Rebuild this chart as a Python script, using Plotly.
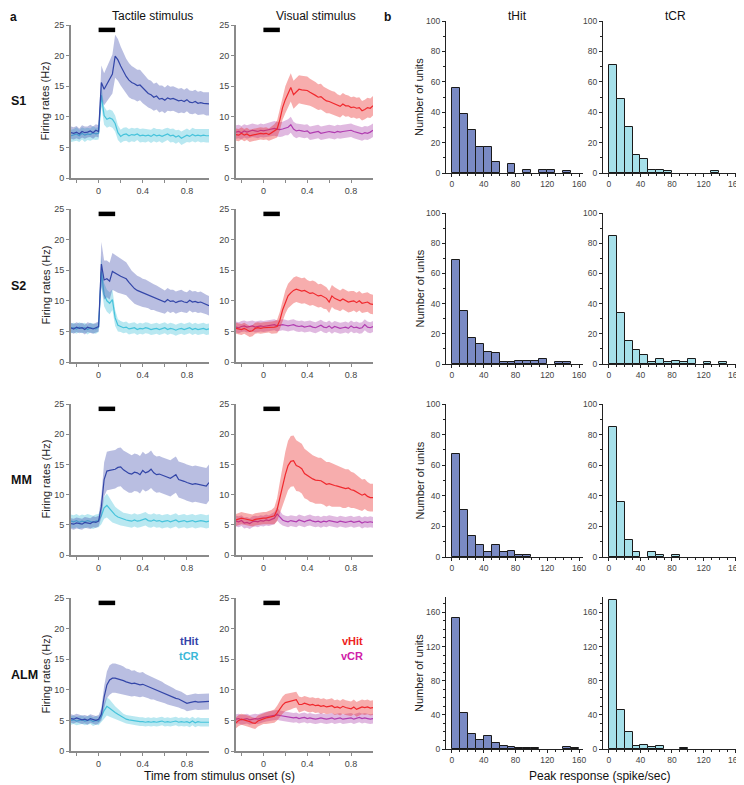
import plotly.graph_objects as go
from plotly.subplots import make_subplots

# the page adds an 8 px body margin, so the figure is drawn 8 px smaller
# and every pixel position below is given in window coordinates
W, H = 744, 785
OFF = 8
FIG_W, FIG_H = W - OFF, H - OFF
FONT = "Liberation Sans, Arial, sans-serif"

# time axis of the PSTHs (s)
T = [-0.25, -0.225, -0.2, -0.175, -0.15, -0.125, -0.1, -0.075, -0.05, -0.025, 0.0,
     0.025, 0.05, 0.075, 0.1, 0.125, 0.15, 0.175, 0.2, 0.225, 0.25,
     0.275, 0.3, 0.325, 0.35, 0.375, 0.4, 0.425, 0.45, 0.475, 0.5,
     0.525, 0.55, 0.575, 0.6, 0.625, 0.65, 0.675, 0.7, 0.725, 0.75,
     0.775, 0.8, 0.825, 0.85, 0.875, 0.9, 0.925, 0.95, 0.975, 1.0]
STIM_WINDOW = [0.0, 0.15]

# ---- S1 ----
S1_THIT = [7.4, 7.3, 7.5, 7.2, 7.6, 7.4, 7.5, 7.7, 7.4, 7.8, 7.6,
           15.6, 14.5, 15.3, 16.2, 17.0, 19.9, 19.3, 18.3, 17.4, 16.6,
           16.0, 15.6, 15.4, 15.1, 15.2, 14.7, 14.2, 13.8, 13.6, 13.2,
           13.4, 12.9, 13.0, 12.7, 13.1, 12.9, 13.0, 12.8, 12.6, 12.7,
           12.5, 12.8, 12.4, 12.3, 12.5, 12.2, 12.3, 12.2, 12.1, 12.1]
S1_THIT_SEM = [1.0, 1.0, 1.0, 0.9, 1.0, 1.0, 0.9, 1.0, 1.0, 1.0, 1.0,
               2.8, 2.6, 2.8, 3.0, 3.2, 3.5, 3.4, 3.2, 3.0, 2.9,
               2.8, 2.7, 2.6, 2.6, 2.5, 2.5, 2.4, 2.3, 2.3, 2.2,
               2.2, 2.2, 2.1, 2.1, 2.1, 2.0, 2.0, 2.0, 2.0, 2.0,
               1.9, 1.9, 1.9, 1.9, 1.9, 1.9, 1.9, 1.8, 1.9, 1.9]
S1_TCR = [6.9, 7.0, 7.2, 6.9, 7.3, 7.0, 7.2, 7.1, 7.4, 7.2, 7.3,
          13.5, 10.2, 9.6, 9.8, 9.6, 8.9, 7.4, 6.8, 7.1, 7.2,
          6.9, 7.1, 7.0, 7.2, 6.9, 7.0, 6.9, 7.0, 6.8, 7.1,
          6.9, 7.0, 6.8, 7.0, 7.2, 6.9, 7.0, 6.7, 6.9, 6.5,
          6.8, 7.0, 6.8, 7.1, 6.9, 7.0, 6.9, 7.0, 6.9, 6.9]
S1_TCR_SEM = [1.0, 1.0, 1.1, 1.0, 1.0, 1.1, 1.0, 1.0, 1.1, 1.0, 1.0,
              1.8, 1.5, 1.4, 1.4, 1.4, 1.3, 1.2, 1.1, 1.1, 1.1,
              1.1, 1.1, 1.1, 1.0, 1.1, 1.1, 1.1, 1.0, 1.1, 1.1,
              1.1, 1.0, 1.1, 1.1, 1.0, 1.1, 1.1, 1.1, 1.0, 1.1,
              1.1, 1.1, 1.0, 1.1, 1.1, 1.0, 1.1, 1.1, 1.1, 1.1]
S1_VHIT = [7.1, 7.0, 7.3, 7.0, 7.2, 6.9, 7.0, 7.1, 7.2, 7.3, 7.2,
           7.3, 7.1, 7.4, 7.6, 8.0, 9.5, 11.5, 12.8, 13.8, 14.8,
           13.6, 14.0, 14.5, 14.4, 14.3, 14.3, 14.0, 13.8, 13.5, 13.2,
           13.3, 12.9, 12.6, 12.5, 12.3, 12.2, 11.9, 11.7, 12.1, 11.8,
           11.8, 11.5, 11.6, 11.4, 11.5, 11.0, 11.2, 11.5, 11.4, 11.8]
S1_VHIT_SEM = [1.0, 1.0, 1.0, 1.0, 1.0, 1.0, 1.0, 1.0, 1.0, 1.0, 1.0,
               1.0, 1.0, 1.1, 1.2, 1.4, 1.7, 2.0, 2.2, 2.3, 2.3,
               2.3, 2.3, 2.3, 2.3, 2.3, 2.3, 2.2, 2.2, 2.2, 2.1,
               2.1, 2.0, 2.0, 1.9, 1.9, 1.9, 1.8, 1.8, 1.8, 1.8,
               1.7, 1.7, 1.7, 1.7, 1.7, 1.6, 1.6, 1.6, 1.6, 1.6]
S1_VCR = [7.5, 7.6, 7.4, 7.7, 7.5, 7.6, 7.8, 7.7, 7.6, 7.8, 7.7,
          7.8, 7.9, 8.0, 8.1, 8.0, 7.9, 8.0, 8.2, 8.3, 8.7,
          8.0, 7.7, 7.8, 7.7, 7.6, 7.7, 7.3, 7.4, 7.5, 7.6,
          7.3, 7.4, 7.5, 7.6, 7.5, 7.4, 7.6, 7.5, 7.6, 7.7,
          7.7, 7.8, 7.6, 7.5, 7.3, 7.2, 7.4, 7.3, 7.5, 7.8]
S1_VCR_SEM = [1.1, 1.1, 1.1, 1.1, 1.1, 1.1, 1.1, 1.1, 1.1, 1.1, 1.1,
              1.1, 1.1, 1.1, 1.2, 1.2, 1.2, 1.2, 1.2, 1.3, 1.3,
              1.2, 1.2, 1.1, 1.1, 1.1, 1.1, 1.1, 1.1, 1.1, 1.1,
              1.1, 1.1, 1.1, 1.1, 1.1, 1.1, 1.1, 1.1, 1.1, 1.1,
              1.1, 1.1, 1.1, 1.1, 1.1, 1.1, 1.1, 1.1, 1.1, 1.1]

# ---- S2 ----
S2_THIT = [5.6, 5.4, 5.7, 5.5, 5.6, 5.3, 5.7, 5.5, 5.4, 5.6, 5.8,
           16.0, 13.4, 13.6, 13.2, 14.8, 14.5, 14.2, 14.0, 13.8, 13.6,
           13.0, 12.4, 12.0, 11.7, 11.5, 11.3, 11.2, 11.0, 10.7, 10.6,
           10.4, 10.2, 10.0, 9.8, 10.2, 9.9, 10.0, 9.7, 9.9, 10.0,
           9.8, 9.7, 10.1, 9.8, 9.9, 9.7, 9.8, 9.6, 9.4, 9.2]
S2_THIT_SEM = [0.8, 0.8, 0.8, 0.8, 0.8, 0.8, 0.8, 0.8, 0.8, 0.8, 0.8,
               3.6, 3.2, 3.0, 3.0, 3.0, 3.0, 2.9, 2.8, 2.8, 2.7,
               2.6, 2.5, 2.5, 2.4, 2.4, 2.3, 2.3, 2.2, 2.2, 2.1,
               2.1, 2.0, 2.0, 1.9, 1.9, 1.9, 1.8, 1.8, 1.8, 1.8,
               1.7, 1.7, 1.7, 1.7, 1.7, 1.7, 1.7, 1.6, 1.6, 1.6]
S2_TCR = [5.5, 5.6, 5.4, 5.7, 5.5, 5.6, 5.3, 5.6, 5.5, 5.4, 5.7,
          14.8, 11.0, 10.0, 9.6, 10.2, 7.2, 6.0, 5.8, 5.6, 5.7,
          5.4, 5.5, 5.6, 5.3, 5.5, 5.4, 5.6, 5.5, 5.3, 5.4,
          5.5, 5.3, 5.4, 5.6, 5.3, 5.5, 5.4, 5.2, 5.4, 5.5,
          5.3, 5.4, 5.6, 5.3, 5.5, 5.3, 5.4, 5.5, 5.3, 5.4]
S2_TCR_SEM = [0.8, 0.8, 0.8, 0.8, 0.8, 0.8, 0.8, 0.8, 0.8, 0.8, 0.8,
              2.6, 1.9, 1.8, 1.8, 1.7, 1.3, 1.0, 0.9, 0.9, 0.9,
              0.9, 0.9, 0.9, 0.9, 0.9, 0.9, 0.9, 0.9, 0.9, 0.9,
              0.9, 0.9, 0.9, 0.9, 0.9, 0.9, 0.9, 0.9, 0.9, 0.9,
              0.9, 0.9, 0.9, 0.9, 0.9, 0.9, 0.9, 0.9, 0.9, 0.9]
S2_VHIT = [5.5, 5.4, 5.3, 5.5, 5.2, 5.0, 5.1, 5.5, 5.6, 5.5, 5.6,
           5.6, 5.7, 5.6, 5.7, 5.8, 6.8, 8.5, 9.8, 10.8, 11.3,
           11.7, 11.9, 11.8, 11.6, 11.7, 11.4, 11.2, 11.3, 11.1, 10.8,
           10.9, 10.6, 10.4, 9.8, 10.8, 10.4, 10.2, 10.0, 10.3, 10.1,
           9.8, 9.9, 10.0, 9.7, 10.0, 9.6, 9.7, 9.8, 9.5, 9.4]
S2_VHIT_SEM = [0.9, 0.9, 0.9, 0.9, 0.9, 0.9, 0.9, 0.9, 0.9, 0.9, 0.9,
               0.9, 0.9, 1.0, 1.0, 1.1, 1.4, 1.7, 1.9, 2.0, 2.1,
               2.1, 2.1, 2.1, 2.1, 2.1, 2.0, 2.0, 2.0, 2.0, 1.9,
               1.9, 1.9, 1.8, 1.8, 1.8, 1.8, 1.7, 1.7, 1.7, 1.7,
               1.7, 1.7, 1.6, 1.6, 1.6, 1.6, 1.6, 1.6, 1.6, 1.6]
S2_VCR = [5.7, 5.6, 5.8, 5.9, 5.7, 5.8, 5.9, 5.7, 5.8, 5.9, 5.8,
          5.9, 6.0, 6.0, 6.1, 5.9, 6.0, 6.1, 6.0, 5.9, 6.0,
          6.1, 5.9, 5.8, 5.9, 5.7, 5.8, 5.9, 5.7, 5.6, 5.8,
          6.0, 5.7, 5.6, 5.9, 5.5, 5.8, 5.7, 5.5, 5.6, 5.7,
          5.5, 5.9, 5.6, 5.7, 5.5, 5.6, 6.1, 5.7, 5.6, 5.8]
S2_VCR_SEM = [0.9, 0.9, 0.9, 0.9, 0.9, 0.9, 0.9, 0.9, 0.9, 0.9, 0.9,
              0.9, 0.9, 0.9, 0.9, 0.9, 0.9, 0.9, 0.9, 0.9, 0.9,
              0.9, 0.9, 0.9, 0.9, 0.9, 0.9, 0.9, 0.9, 0.9, 0.9,
              0.9, 0.9, 0.9, 0.9, 0.9, 0.9, 0.9, 0.9, 0.9, 0.9,
              0.9, 0.9, 0.9, 0.9, 0.9, 0.9, 0.9, 0.9, 0.9, 0.9]

# ---- MM ----
MM_THIT = [5.2, 5.1, 5.3, 5.2, 5.1, 5.4, 5.3, 5.2, 5.5, 5.4, 5.6,
           8.0, 12.5, 13.9, 14.0, 14.1, 14.2, 14.5, 14.6, 14.1, 13.8,
           13.5, 13.4, 13.7, 13.6, 13.3, 14.0, 13.6, 13.8, 14.2, 13.6,
           13.3, 13.4, 13.2, 13.0, 12.8, 12.7, 13.0, 13.3, 12.5, 12.4,
           12.2, 12.0, 11.8, 11.7, 11.8, 11.7, 11.6, 11.5, 11.4, 12.0]
MM_THIT_SEM = [0.9, 0.9, 0.9, 0.9, 0.9, 0.9, 0.9, 0.9, 0.9, 0.9, 0.9,
               1.8, 2.8, 3.2, 3.2, 3.2, 3.2, 3.2, 3.2, 3.2, 3.2,
               3.2, 3.1, 3.1, 3.1, 3.1, 3.1, 3.1, 3.1, 3.1, 3.0,
               3.0, 3.0, 3.0, 3.0, 3.0, 3.0, 3.0, 3.0, 3.0, 3.0,
               3.0, 3.0, 3.0, 3.0, 3.0, 3.0, 3.0, 3.0, 3.0, 3.0]
MM_TCR = [5.6, 5.5, 5.7, 5.4, 5.6, 5.5, 5.7, 5.6, 5.4, 5.6, 5.7,
          6.5, 7.8, 8.2, 7.6, 7.0, 6.6, 6.3, 6.1, 5.9, 5.8,
          5.7, 5.6, 5.8, 5.6, 5.7, 5.9, 6.0, 5.7, 5.6, 5.8,
          5.6, 5.7, 5.5, 5.6, 5.7, 5.5, 5.6, 5.8, 5.5, 5.6,
          5.7, 5.5, 5.6, 5.7, 5.5, 5.6, 5.7, 5.6, 5.5, 5.6]
MM_TCR_SEM = [1.1, 1.1, 1.1, 1.1, 1.1, 1.1, 1.1, 1.1, 1.1, 1.1, 1.1,
              1.4, 1.8, 2.0, 1.8, 1.6, 1.4, 1.3, 1.2, 1.1, 1.1,
              1.1, 1.1, 1.1, 1.1, 1.1, 1.1, 1.1, 1.1, 1.1, 1.1,
              1.1, 1.1, 1.1, 1.1, 1.1, 1.1, 1.1, 1.1, 1.1, 1.1,
              1.1, 1.1, 1.1, 1.1, 1.1, 1.1, 1.1, 1.1, 1.1, 1.1]
MM_VHIT = [5.8, 5.9, 6.1, 6.0, 5.9, 5.8, 5.7, 5.9, 6.0, 6.0, 6.1,
           6.1, 6.2, 6.3, 6.5, 7.5, 9.5, 11.5, 13.3, 14.8, 15.5,
           15.6, 14.8, 14.6, 14.3, 13.5, 13.2, 12.8, 12.6, 12.4, 12.3,
           12.3, 12.0, 11.7, 11.8, 11.6, 11.5, 11.4, 11.3, 11.1, 11.0,
           11.1, 10.8, 10.7, 10.4, 10.1, 9.9, 10.1, 9.7, 9.5, 9.5]
MM_VHIT_SEM = [1.0, 1.0, 1.0, 1.0, 1.0, 1.0, 1.0, 1.0, 1.0, 1.0, 1.0,
               1.0, 1.1, 1.2, 1.4, 1.9, 2.6, 3.3, 3.8, 4.1, 4.2,
               4.2, 4.2, 4.1, 4.1, 4.1, 4.0, 4.0, 3.9, 3.9, 3.8,
               3.8, 3.7, 3.7, 3.6, 3.6, 3.5, 3.4, 3.3, 3.3, 3.2,
               3.1, 3.0, 2.9, 2.8, 2.7, 2.6, 2.5, 2.4, 2.3, 2.3]
MM_VCR = [5.6, 5.5, 5.7, 5.3, 5.4, 5.2, 5.5, 5.6, 5.5, 5.7, 5.6,
          5.8, 5.7, 5.9, 6.1, 6.8, 6.2, 5.8, 5.6, 5.5, 5.7,
          5.6, 5.5, 5.8, 5.6, 5.5, 5.7, 5.8, 5.6, 5.5, 5.6,
          5.4, 5.6, 5.5, 5.7, 5.6, 5.5, 5.4, 5.6, 5.5, 5.4,
          5.5, 5.6, 5.4, 5.5, 5.6, 5.3, 5.5, 5.4, 5.5, 5.4]
MM_VCR_SEM = [0.9, 0.9, 0.9, 0.9, 0.9, 0.9, 0.9, 0.9, 0.9, 0.9, 0.9,
              0.9, 0.9, 1.0, 1.0, 1.1, 1.0, 0.9, 0.9, 0.9, 0.9,
              0.9, 0.9, 0.9, 0.9, 0.9, 0.9, 0.9, 0.9, 0.9, 0.9,
              0.9, 0.9, 0.9, 0.9, 0.9, 0.9, 0.9, 0.9, 0.9, 0.9,
              0.9, 0.9, 0.9, 0.9, 0.9, 0.9, 0.9, 0.9, 0.9, 0.9]

# ---- ALM ----
ALM_THIT = [5.3, 5.2, 5.4, 5.3, 5.1, 5.2, 5.0, 5.3, 5.1, 5.0, 5.2,
            6.0, 8.8, 10.8, 11.6, 11.9, 11.9, 11.8, 11.7, 11.5, 11.3,
            11.2, 11.0, 11.1, 10.9, 10.8, 10.9, 10.7, 10.5, 10.3, 10.2,
            10.0, 9.8, 9.6, 9.4, 9.2, 9.0, 8.8, 8.6, 8.5, 8.3,
            8.1, 7.8, 7.9, 8.0, 8.1, 8.0, 8.0, 8.1, 8.1, 8.1]
ALM_THIT_SEM = [0.7, 0.7, 0.7, 0.7, 0.7, 0.7, 0.7, 0.7, 0.7, 0.7, 0.7,
                1.0, 1.8, 2.2, 2.4, 2.4, 2.4, 2.4, 2.3, 2.3, 2.2,
                2.2, 2.1, 2.1, 2.0, 2.0, 2.0, 1.9, 1.9, 1.9, 1.8,
                1.8, 1.7, 1.7, 1.6, 1.6, 1.5, 1.5, 1.4, 1.4, 1.4,
                1.3, 1.3, 1.3, 1.3, 1.3, 1.3, 1.3, 1.3, 1.3, 1.3]
ALM_TCR = [5.0, 5.1, 4.9, 5.0, 5.1, 4.9, 5.0, 5.1, 4.8, 5.0, 4.9,
           5.6, 6.6, 7.3, 7.0, 6.6, 6.3, 6.0, 5.7, 5.4, 5.2,
           5.1, 5.0, 4.9, 4.9, 4.8, 4.8, 4.7, 4.8, 4.7, 4.8,
           4.7, 4.8, 4.9, 4.7, 4.8, 4.7, 4.8, 4.9, 4.7, 4.8,
           4.7, 4.8, 4.6, 4.9, 4.6, 4.8, 4.7, 4.7, 4.6, 4.7]
ALM_TCR_SEM = [0.7, 0.7, 0.7, 0.7, 0.7, 0.7, 0.7, 0.7, 0.7, 0.7, 0.7,
               0.9, 1.3, 1.5, 1.4, 1.2, 1.0, 0.9, 0.8, 0.7, 0.7,
               0.7, 0.7, 0.7, 0.7, 0.7, 0.7, 0.7, 0.7, 0.7, 0.7,
               0.7, 0.7, 0.7, 0.7, 0.7, 0.7, 0.7, 0.7, 0.7, 0.7,
               0.7, 0.7, 0.7, 0.7, 0.7, 0.7, 0.7, 0.7, 0.7, 0.7]
ALM_VHIT = [4.6, 5.0, 5.2, 5.1, 4.9, 4.8, 4.6, 4.5, 4.9, 5.1, 5.3,
            5.4, 5.5, 5.6, 5.7, 6.2, 6.9, 7.5, 7.9, 8.0, 8.2,
            8.3, 8.4, 7.6, 7.6, 7.8, 7.6, 7.5, 7.6, 7.4, 7.5,
            7.3, 7.4, 7.2, 7.3, 7.4, 7.1, 7.2, 7.0, 7.3, 7.1,
            7.0, 6.9, 7.2, 6.8, 7.0, 7.2, 7.1, 7.2, 7.0, 7.1]
ALM_VHIT_SEM = [0.9, 0.9, 0.9, 0.9, 0.9, 0.9, 0.9, 0.9, 0.9, 0.9, 0.9,
                1.0, 1.0, 1.0, 1.1, 1.2, 1.3, 1.4, 1.4, 1.4, 1.4,
                1.3, 1.3, 1.3, 1.2, 1.2, 1.2, 1.2, 1.2, 1.2, 1.2,
                1.2, 1.2, 1.2, 1.2, 1.2, 1.2, 1.2, 1.2, 1.2, 1.2,
                1.2, 1.2, 1.2, 1.2, 1.2, 1.2, 1.2, 1.2, 1.2, 1.2]
ALM_VCR = [5.2, 5.3, 5.1, 5.2, 5.3, 5.1, 5.2, 5.3, 5.2, 5.4, 5.5,
           5.6, 5.7, 5.8, 5.9, 5.9, 5.8, 5.7, 5.6, 5.6, 5.5,
           5.4, 5.5, 5.3, 5.4, 5.5, 5.3, 5.4, 5.3, 5.2, 5.3,
           5.4, 5.3, 5.2, 5.3, 5.4, 5.2, 5.3, 5.4, 5.2, 5.3,
           5.3, 5.4, 5.2, 5.3, 5.5, 5.3, 5.4, 5.3, 5.2, 5.3]
ALM_VCR_SEM = [0.8, 0.8, 0.8, 0.8, 0.8, 0.8, 0.8, 0.8, 0.8, 0.8, 0.8,
               0.8, 0.8, 0.8, 0.8, 0.8, 0.8, 0.8, 0.8, 0.8, 0.8,
               0.8, 0.8, 0.8, 0.8, 0.8, 0.8, 0.8, 0.8, 0.8, 0.8,
               0.8, 0.8, 0.8, 0.8, 0.8, 0.8, 0.8, 0.8, 0.8, 0.8,
               0.8, 0.8, 0.8, 0.8, 0.8, 0.8, 0.8, 0.8, 0.8, 0.8]

# ---- peak response histograms (10 spike/s bins) ----
BIN_CENTERS = [5, 15, 25, 35, 45, 55, 65, 75, 85, 95, 105, 115, 125, 135, 145, 155]
S1_THIT_N = [56, 39, 28, 17, 17, 7, 0, 6, 0, 2, 0, 2, 2, 0, 1, 0]
S1_TCR_N = [71, 49, 30, 12, 9, 2, 2, 1, 0, 0, 0, 0, 0, 1, 0, 0]
S2_THIT_N = [69, 35, 17, 13, 8, 7, 1, 1, 2, 2, 2, 3, 0, 1, 1, 0]
S2_TCR_N = [85, 34, 15, 9, 6, 1, 3, 1, 2, 1, 3, 0, 1, 0, 1, 0]
MM_THIT_N = [67, 31, 14, 8, 3, 8, 3, 4, 1, 1, 0, 0, 0, 0, 0, 0]
MM_TCR_N = [85, 36, 11, 3, 0, 3, 1, 0, 1, 0, 0, 0, 0, 0, 0, 0]
ALM_THIT_N = [153, 42, 18, 10, 15, 7, 3, 2, 1, 1, 1, 0, 0, 0, 2, 1]
ALM_TCR_N = [175, 46, 20, 4, 5, 2, 3, 0, 0, 1, 0, 0, 0, 0, 0, 0]

AREAS = ["S1", "S2", "MM", "ALM"]
PSTH = {
    "S1": [(S1_THIT, S1_THIT_SEM, S1_TCR, S1_TCR_SEM), (S1_VHIT, S1_VHIT_SEM, S1_VCR, S1_VCR_SEM)],
    "S2": [(S2_THIT, S2_THIT_SEM, S2_TCR, S2_TCR_SEM), (S2_VHIT, S2_VHIT_SEM, S2_VCR, S2_VCR_SEM)],
    "MM": [(MM_THIT, MM_THIT_SEM, MM_TCR, MM_TCR_SEM), (MM_VHIT, MM_VHIT_SEM, MM_VCR, MM_VCR_SEM)],
    "ALM": [(ALM_THIT, ALM_THIT_SEM, ALM_TCR, ALM_TCR_SEM), (ALM_VHIT, ALM_VHIT_SEM, ALM_VCR, ALM_VCR_SEM)],
}
HIST = {
    "S1": (S1_THIT_N, S1_TCR_N),
    "S2": (S2_THIT_N, S2_TCR_N),
    "MM": (MM_THIT_N, MM_TCR_N),
    "ALM": (ALM_THIT_N, ALM_TCR_N),
}
HIST_YMAX = [100, 100, 100, 178]

# (line colour, band colour) per condition
STYLE = {
    "tHit": ("#3346a8", "rgba(70,85,175,0.38)"),
    "tCR": ("#46c3db", "rgba(60,190,215,0.36)"),
    "vHit": ("#f0282d", "rgba(235,40,40,0.38)"),
    "vCR": ("#b03cb0", "rgba(170,60,170,0.36)"),
}
LABEL_COLORS = {"tHit": "#3344aa", "tCR": "#3ab8d8", "vHit": "#ee2222", "vCR": "#d020a8"}
BAR_COLORS = ["#7a8ac4", "#a6e0ea"]

# panel placement in window pixels: x (left, right), rows (top, bottom)
COL_X = [(71, 209), (236, 373), (446, 583), (603, 739)]
LINE_ROWS = [(25, 178), (209, 362), (404, 555), (598, 751)]
HIST_ROWS = [(21, 173), (213, 364), (404, 557), (597, 749)]


def px(x):
    return (x - OFF) / FIG_W


def py(y):
    return 1 - (y - OFF) / FIG_H


def paper_text(text, x, y, size, color="#111", angle=0, xanchor="center", yanchor="middle"):
    fig.add_annotation(x=px(x), y=py(y), xref="paper", yref="paper", text=text,
                       xanchor=xanchor, yanchor=yanchor, textangle=angle,
                       showarrow=False, font=dict(size=size, color=color, family=FONT))


fig = make_subplots(rows=4, cols=4)

for r, area in enumerate(AREAS, start=1):
    for c, (cond_a, cond_b) in enumerate([("tHit", "tCR"), ("vHit", "vCR")], start=1):
        hit, hit_sem, cr, cr_sem = PSTH[area][c - 1]
        for name, mean, sem in [(cond_b, cr, cr_sem), (cond_a, hit, hit_sem)]:
            line_c, band_c = STYLE[name]
            fig.add_trace(go.Scatter(x=T, y=[m + s for m, s in zip(mean, sem)], mode="lines",
                                     line=dict(width=0, color=band_c), showlegend=False,
                                     hoverinfo="skip"), row=r, col=c)
            fig.add_trace(go.Scatter(x=T, y=[m - s for m, s in zip(mean, sem)], mode="lines",
                                     line=dict(width=0, color=band_c), fill="tonexty",
                                     fillcolor=band_c, showlegend=False, hoverinfo="skip"),
                          row=r, col=c)
            fig.add_trace(go.Scatter(x=T, y=mean, mode="lines", name=name,
                                     line=dict(width=1.2, color=line_c), showlegend=False),
                          row=r, col=c)
        # stimulus bar
        fig.add_trace(go.Scatter(x=STIM_WINDOW, y=[24.2, 24.2], mode="lines",
                                 line=dict(width=4.5, color="black"), showlegend=False,
                                 hoverinfo="skip"), row=r, col=c)
        x0, x1 = COL_X[c - 1]
        top, bot = LINE_ROWS[r - 1]
        fig.update_xaxes(domain=[px(x0), px(x1)], range=[-0.25, 1.0],
                         tickvals=[-0.2, 0, 0.2, 0.4, 0.6, 0.8],
                         ticktext=["", "0", "", "0.4", "", "0.8"],
                         ticks="outside", ticklen=3, tickcolor="#8a8a8a",
                         showline=True, linecolor="#8a8a8a", linewidth=2,
                         showgrid=False, zeroline=False,
                         tickfont=dict(size=9, color="#444", family=FONT), row=r, col=c)
        fig.update_yaxes(domain=[py(bot), py(top)], range=[0, 25], dtick=5,
                         ticks="outside", ticklen=3, tickcolor="#8a8a8a",
                         showline=True, linecolor="#8a8a8a", linewidth=2,
                         showgrid=False, zeroline=False,
                         tickfont=dict(size=9, color="#444", family=FONT), row=r, col=c)

    for k in range(2):
        c = k + 3
        counts = [v if v > 0 else None for v in HIST[area][k]]
        fig.add_trace(go.Bar(x=BIN_CENTERS, y=counts, width=10,
                             marker=dict(color=BAR_COLORS[k], line=dict(color="#1a1a1a", width=1)),
                             showlegend=False), row=r, col=c)
        x0, x1 = COL_X[c - 1]
        top, bot = HIST_ROWS[r - 1]
        ymax = HIST_YMAX[r - 1]
        fig.update_xaxes(domain=[px(x0), px(x1)], range=[-7.5, 165],
                         tickvals=[0, 40, 80, 120, 160], ticks="outside", ticklen=3,
                         tickcolor="#222", minor=dict(dtick=10, tick0=0, ticks="outside",
                                                      ticklen=2, tickcolor="#222"),
                         showline=True, linecolor="#222", linewidth=1,
                         showgrid=False, zeroline=False, ticklabeloverflow="allow",
                         tickfont=dict(size=8.5, color="#444", family=FONT), row=r, col=c)
        fig.update_yaxes(domain=[py(bot), py(top)], range=[0, ymax],
                         dtick=40 if ymax > 100 else 20, ticks="outside", ticklen=3,
                         tickcolor="#222", minor=dict(dtick=10, ticks="outside",
                                                      ticklen=2, tickcolor="#222"),
                         showline=True, linecolor="#222", linewidth=1,
                         showgrid=False, zeroline=False,
                         tickfont=dict(size=8.5, color="#444", family=FONT), row=r, col=c)

    # row label and axis titles
    top, bot = LINE_ROWS[r - 1]
    mid = (top + bot) / 2
    paper_text(f"<b>{area}</b>", 9, mid, 12.5, xanchor="left")
    paper_text("Firing rates (Hz)", 45, mid, 11, "#222", -90)
    htop, hbot = HIST_ROWS[r - 1]
    paper_text("Number of units", 419, (htop + hbot) / 2, 11, "#222", -90)

# legends inside the ALM panels
for c, (a, b) in enumerate([("tHit", "tCR"), ("vHit", "vCR")], start=1):
    for name, yv in [(a, 17.9), (b, 15.6)]:
        fig.add_annotation(x=0.93, y=yv, text=f"<b>{name}</b>", showarrow=False, xanchor="right",
                           yanchor="middle",
                           font=dict(size=11, color=LABEL_COLORS[name], family=FONT), row=4, col=c)

# panel letters pinned to the top edge of the figure
paper_text("<b>a</b>", 8, 8, 12, xanchor="left", yanchor="top")
paper_text("<b>b</b>", 382, 8, 12, xanchor="left", yanchor="top")

for text, x, y, size in [
    ("Tactile stimulus", 152, 16, 12), ("Visual stimulus", 316, 16, 12),
    ("tHit", 517, 16, 12), ("tCR", 675, 16, 12),
    ("Time from stimulus onset (s)", 219, 776, 12),
    ("Peak response (spike/sec)", 599, 776, 12),
]:
    paper_text(text, x, y, size)

fig.update_layout(
    width=FIG_W, height=FIG_H,
    margin=dict(l=0, r=0, t=0, b=0, autoexpand=False),
    paper_bgcolor="white", plot_bgcolor="white",
    bargap=0, showlegend=False,
    font=dict(family=FONT),
)
fig.write_html("out.html")
